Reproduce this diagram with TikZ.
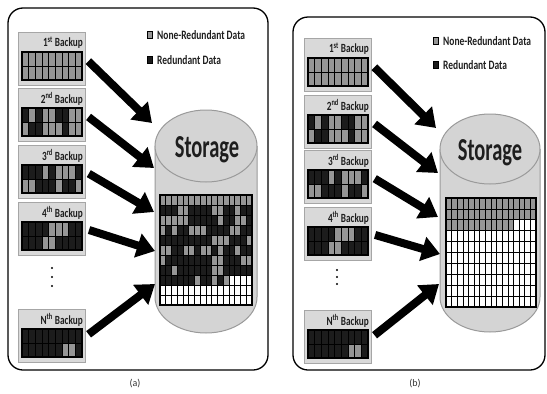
\documentclass[tikz,border=0pt]{standalone}
\usepackage{fontspec}
\setmainfont{Carlito}
\usepackage{graphicx}
\usetikzlibrary{arrows.meta}
\definecolor{cG}{HTML}{969696}
\definecolor{cB}{HTML}{1C1C1C}
\definecolor{cW}{HTML}{FFFFFF}
\definecolor{boxfill}{HTML}{D9D9D9}
\definecolor{boxline}{HTML}{A6A6A6}
\definecolor{cylfill}{HTML}{D4D4D4}
\definecolor{cylline}{HTML}{9A9A9A}
\definecolor{txt}{HTML}{1E1E1E}
\newcommand\nar[1]{\scalebox{0.74}[1]{#1}}
\newcommand\cellrow[5]{\foreach \cc [count=\ii from 0] in {#5} {\draw[cellst, fill=c\cc] ({#1+\ii*#3},{#2}) rectangle ++(#3,#4);}}
\newcommand\bkp[6]{%
  \node[bbox, anchor=north west] (#1) at (#2,#3) {};
  \node[btitle, anchor=east] (#1t) at ({#2+65},{#3+11}) {\nar{#4}};
  \cellrow{#2+4}{#3+20}{6.667}{14}{#5}
  \cellrow{#2+4}{#3+34}{6.667}{14}{#6}
  \draw[gridframe] ({#2+4},{#3+20}) rectangle ++(60,28);
}
\newcommand\cyl[5]{% x0, ytop, ybot, rx, ry
  \fill[cylfill] ({#1-#4},#2) -- ({#1-#4},#3) arc[start angle=180, end angle=0, x radius=#4, y radius=#5] -- ({#1+#4},#2) -- cycle;
  \draw[cylline, line width=1pt] ({#1-#4},#2) -- ({#1-#4},#3) arc[start angle=180, end angle=0, x radius=#4, y radius=#5] -- ({#1+#4},#2);
  \draw[cylline, line width=1pt, fill=cylfill] (#1,#2) ellipse[x radius=#4, y radius=#5];
}
\tikzset{
  panel/.style={draw=black, line width=1.3pt, rounded corners=15pt},
  bbox/.style={draw=boxline, fill=boxfill, line width=1.2pt, minimum width=67pt, minimum height=53pt, inner sep=0pt},
  btitle/.style={font=\bfseries\fontsize{12.5}{12.5}\selectfont, text=txt, inner sep=0pt},
  cellst/.style={draw=black, line width=0.7pt},
  gridframe/.style={draw=black, line width=1.1pt},
  legsq/.style={draw=black, line width=0.6pt, minimum width=5pt, minimum height=7pt, inner sep=0pt},
  legtext/.style={font=\bfseries\fontsize{12.8}{12.8}\selectfont, text=txt, inner sep=0pt, anchor=west},
  stortext/.style={font=\bfseries\fontsize{32}{32}\selectfont, text=txt, inner sep=0pt, anchor=base},
  caplabel/.style={font=\fontsize{10}{10}\selectfont, text=black!80, inner sep=0pt},
  bigarr/.style={draw=black, line width=8pt, -{Triangle[length=18pt, width=24pt]}, shorten <=3pt},
}
\begin{document}
\begin{tikzpicture}[x=1pt, y=-1pt]
\useasboundingbox (0,0) rectangle (547,394);

% ---------------- panel (a) ----------------
\draw[panel] (8,8) rectangle (268,370);
\node[legsq, fill=cG] (aL1) at (150,35) {};
\node[legtext] (aL1t) at (157,35) {\nar{None-Redundant Data}};
\node[legsq, fill=cB] (aL2) at (150,60) {};
\node[legtext] (aL2t) at (157,60) {\nar{Redundant Data}};

\bkp{a1}{18}{32}{1\textsuperscript{st} Backup}{G,G,G,G,G,G,G,G,G}{G,G,G,G,G,G,G,G,G}
\bkp{a2}{18}{88}{2\textsuperscript{nd} Backup}{B,G,B,G,G,B,B,G,G}{G,B,B,G,G,G,B,G,G}
\bkp{a3}{18}{145}{3\textsuperscript{rd} Backup}{B,B,B,G,B,G,G,G,B}{G,G,B,B,B,G,B,B,G}
\bkp{a4}{18}{202}{4\textsuperscript{th} Backup}{B,B,B,B,G,G,G,B,B}{B,B,B,G,G,B,B,B,B}
\bkp{aN}{18}{309}{N\textsuperscript{th} Backup}{B,B,B,B,B,B,B,B,B}{B,B,B,B,B,B,G,G,B}
\fill (52,268) circle (1.1);
\fill (52,277) circle (1.1);
\fill (52,286) circle (1.1);

\cyl{206}{146}{297}{51}{36}
\node[stortext] (aS) at (207,157) {\scalebox{0.64}[1]{Storage}};
\cellrow{160}{195}{5.75}{10}{G,G,G,G,G,G,G,G,G,G,G,G,G,G,G,G}
\cellrow{160}{205}{5.75}{10}{B,B,B,G,G,B,B,B,B,G,G,B,B,G,B,B}
\cellrow{160}{215}{5.75}{10}{G,G,G,G,G,B,B,B,B,B,G,B,B,G,G,B}
\cellrow{160}{225}{5.75}{10}{G,B,G,B,B,G,G,G,B,B,B,B,G,G,B,B}
\cellrow{160}{235}{5.75}{10}{B,B,B,B,B,B,B,B,B,G,G,G,B,B,B,G}
\cellrow{160}{245}{5.75}{10}{G,G,B,B,G,G,B,G,G,B,G,B,B,G,B,B}
\cellrow{160}{255}{5.75}{10}{G,B,B,B,B,B,B,B,B,G,G,B,B,B,G,G}
\cellrow{160}{265}{5.75}{10}{B,B,G,B,B,B,B,B,B,G,G,B,B,B,B,B}
\cellrow{160}{275}{5.75}{10}{B,B,B,B,B,B,G,B,B,G,B,G,W,W,W,W}
\cellrow{160}{285}{5.75}{10}{W,W,W,W,W,W,W,W,W,W,W,W,W,W,W,W}
\cellrow{160}{295}{5.75}{10}{W,W,W,W,W,W,W,W,W,W,W,W,W,W,W,W}
\draw[gridframe] (160,195) rectangle ++(92,110);

\coordinate (a1p) at (152,123);
\coordinate (a2p) at (154,168);
\coordinate (a3p) at (154,212);
\coordinate (a4p) at (155,251);
\coordinate (aNp) at (155,284);
\draw[bigarr] (a1.east) -- (a1p);
\draw[bigarr] (a2.east) -- (a2p);
\draw[bigarr] (a3.east) -- (a3p);
\draw[bigarr] (a4.east) -- (a4p);
\draw[bigarr] (aN.east) -- (aNp);
\node[caplabel] (aCap) at (135,384) {(a)};

% ---------------- panel (b) ----------------
\draw[panel] (293,17) rectangle (545,370);
\node[legsq, fill=cG] (bL1) at (436,41) {};
\node[legtext] (bL1t) at (443,41) {\nar{None-Redundant Data}};
\node[legsq, fill=cB] (bL2) at (436,65) {};
\node[legtext] (bL2t) at (443,65) {\nar{Redundant Data}};

\bkp{b1}{304}{38}{1\textsuperscript{st} Backup}{G,G,G,G,G,G,G,G,G}{G,G,G,G,G,G,G,G,G}
\bkp{b2}{304}{95}{2\textsuperscript{nd} Backup}{B,G,B,G,G,B,B,G,G}{G,B,B,G,G,G,B,G,G}
\bkp{b3}{304}{150}{3\textsuperscript{rd} Backup}{B,B,B,G,B,G,G,G,B}{G,G,B,B,B,G,B,B,G}
\bkp{b4}{304}{207}{4\textsuperscript{th} Backup}{B,B,B,B,G,G,G,B,B}{B,B,B,G,G,B,B,B,B}
\bkp{bN}{304}{310}{N\textsuperscript{th} Backup}{B,B,B,B,B,B,B,B,B}{B,B,B,B,B,B,G,G,B}
\fill (337,270) circle (1.1);
\fill (337,277) circle (1.1);
\fill (337,284) circle (1.1);

\cyl{490}{149}{297}{50}{35}
\node[stortext] (bS) at (490,160) {\scalebox{0.64}[1]{Storage}};
\cellrow{446}{198}{5.625}{10.9}{G,G,G,G,G,G,G,G,G,G,G,G,G,G,G,G}
\cellrow{446}{208.9}{5.625}{10.9}{G,G,G,G,G,G,G,G,G,G,G,G,G,G,G,G}
\cellrow{446}{219.8}{5.625}{10.9}{G,G,G,G,G,G,G,G,G,G,G,G,W,W,W,W}
\cellrow{446}{230.7}{5.625}{10.9}{W,W,W,W,W,W,W,W,W,W,W,W,W,W,W,W}
\cellrow{446}{241.6}{5.625}{10.9}{W,W,W,W,W,W,W,W,W,W,W,W,W,W,W,W}
\cellrow{446}{252.5}{5.625}{10.9}{W,W,W,W,W,W,W,W,W,W,W,W,W,W,W,W}
\cellrow{446}{263.4}{5.625}{10.9}{W,W,W,W,W,W,W,W,W,W,W,W,W,W,W,W}
\cellrow{446}{274.3}{5.625}{10.9}{W,W,W,W,W,W,W,W,W,W,W,W,W,W,W,W}
\cellrow{446}{285.2}{5.625}{10.9}{W,W,W,W,W,W,W,W,W,W,W,W,W,W,W,W}
\cellrow{446}{296.1}{5.625}{10.9}{W,W,W,W,W,W,W,W,W,W,W,W,W,W,W,W}
\draw[gridframe] (446,198) rectangle ++(90,109);

\coordinate (b1p) at (436,128);
\coordinate (b2p) at (438,173);
\coordinate (b3p) at (438,217);
\coordinate (b4p) at (440,254);
\coordinate (bNp) at (439,284);
\draw[bigarr] (b1.east) -- (b1p);
\draw[bigarr] (b2.east) -- (b2p);
\draw[bigarr] (b3.east) -- (b3p);
\draw[bigarr] (b4.east) -- (b4p);
\draw[bigarr] (bN.east) -- (bNp);
\node[caplabel] (bCap) at (415,384) {(b)};
\end{tikzpicture}
\end{document}
